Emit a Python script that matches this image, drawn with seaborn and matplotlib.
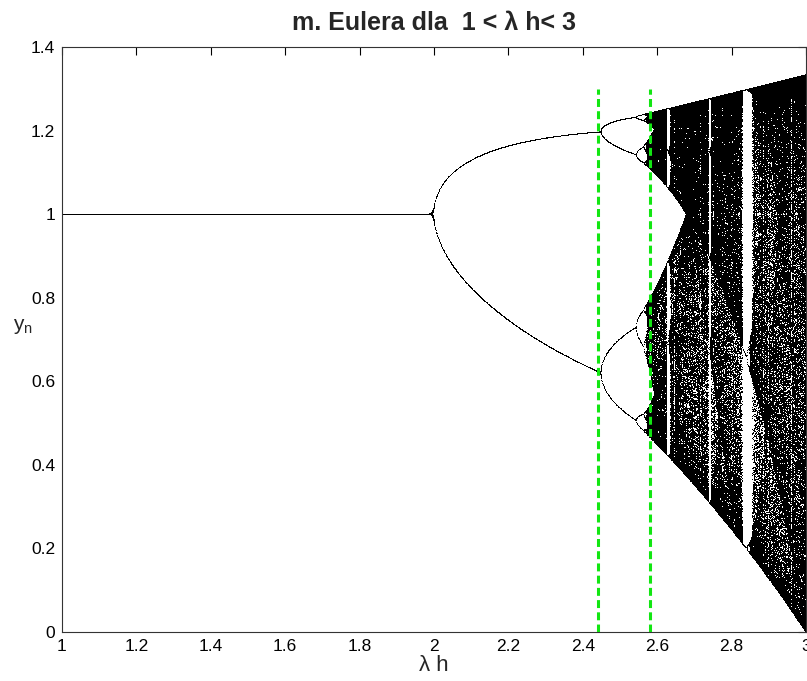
import numpy as np
import pandas as pd
import matplotlib
matplotlib.use("Agg")
import matplotlib.pyplot as plt
import seaborn as sns

# ---- chart parameters / data ----
lambda_h_range = [1.0, 2.9995]      # x range of the bifurcation sweep (λh)
n_lambda = 1800                      # number of λh values sampled
n_transient = 400                    # iterations discarded
n_keep = 550                         # iterations plotted per λh
y_start = 0.3                        # initial y0
green_lines_x = [2.44, 2.58]         # dashed green markers
green_lines_top = 1.3
x_ticks = [1, 1.2, 1.4, 1.6, 1.8, 2, 2.2, 2.4, 2.6, 2.8, 3]
x_tick_labels = ["1", "1.2", "1.4", "1.6", "1.8", "2", "2.2", "2.4", "2.6", "2.8", "3"]
y_ticks = [0, 0.2, 0.4, 0.6, 0.8, 1, 1.2, 1.4]
y_tick_labels = ["0", "0.2", "0.4", "0.6", "0.8", "1", "1.2", "1.4"]
title_text = "m. Eulera dla  1 < \u03bb h< 3"
xlabel_text = "\u03bb h"

# ---- Euler method for y' = λ y (1 - y):  y_{n+1} = y_n + λh y_n (1 - y_n) ----
lam = np.linspace(lambda_h_range[0], lambda_h_range[1], n_lambda)
y = np.full_like(lam, y_start)
for _ in range(n_transient):
    y = y + lam * y * (1 - y)
xs, ys = [], []
for _ in range(n_keep):
    y = y + lam * y * (1 - y)
    xs.append(lam.copy())
    ys.append(y.copy())
xs = np.concatenate(xs)
ys = np.concatenate(ys)
ok = np.isfinite(ys) & (ys >= -0.01) & (ys <= 1.45)
df = pd.DataFrame({"lambda_h": xs[ok], "y": ys[ok]})

# ---- styling ----
sns.set_style("white")
plt.rcParams["font.family"] = ["Liberation Sans", "DejaVu Sans"]
plt.rcParams["mathtext.fontset"] = "custom"
plt.rcParams["mathtext.rm"] = "Liberation Sans"
plt.rcParams["mathtext.it"] = "Liberation Sans"
plt.rcParams["mathtext.default"] = "regular"

fig = plt.figure(figsize=(8.07, 6.81), dpi=100)
ax = fig.add_axes([62 / 807, 1 - 632 / 681, (806 - 62) / 807, (632 - 47) / 681])

sns.scatterplot(data=df, x="lambda_h", y="y", ax=ax, color="black",
                marker="s", s=0.55, linewidth=0, edgecolor="none",
                rasterized=True, legend=False)

for gx in green_lines_x:
    ax.plot([gx, gx], [0, green_lines_top], color="#12e612", lw=2.2,
            dashes=(2.6, 1.4), zorder=5)

ax.set_xlim(1, 3)
ax.set_ylim(0, 1.4)
ax.set_xticks(x_ticks)
ax.set_xticklabels(x_tick_labels)
ax.set_yticks(y_ticks)
ax.set_yticklabels(y_tick_labels)
ax.tick_params(direction="in", length=6, width=0.8, labelsize=12.5,
               top=True, right=True, colors="black", pad=5)
for sp in ax.spines.values():
    sp.set_visible(True)
    sp.set_color("#333333")
    sp.set_linewidth(0.8)

ax.set_title(title_text, fontsize=18, fontweight="bold", pad=12)
ax.set_xlabel(xlabel_text, fontsize=16, labelpad=1)
ax.set_ylabel(r"$\mathregular{y_n}$", fontsize=15, rotation=0,
              ha="center", va="center")
ax.yaxis.set_label_coords(-0.053, 0.522)

fig.savefig("out.png", dpi=100)
